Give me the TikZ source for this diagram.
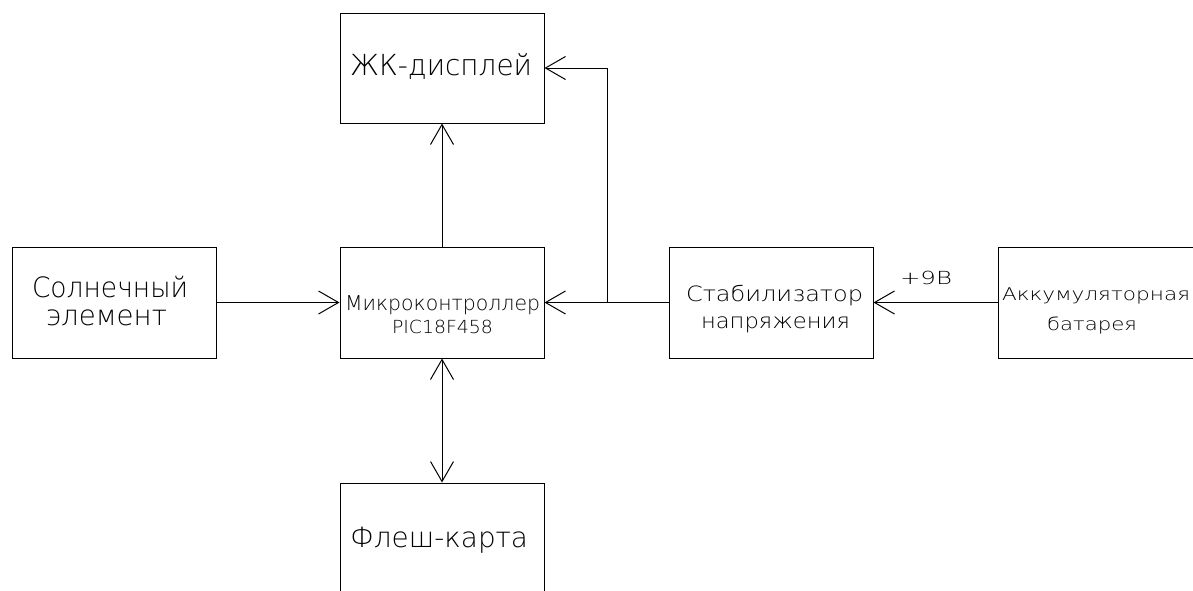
\documentclass[tikz,border=0pt]{standalone}
\usepackage{fontspec}
\usepackage{graphicx}
\setmainfont{DejaVu Sans ExtraLight}
\usetikzlibrary{arrows.meta}
% one text line at a given size, stretched horizontally to a given width
\newcommand\fitline[3]{{\fontsize{#2}{#2}\selectfont\resizebox{#1}{\height}{#3}}}
\tikzset{
  block/.style={draw, line width=1pt, rectangle, minimum width=204pt, minimum height=111pt, inner sep=0pt},
  txt/.style={anchor=base west, inner sep=0pt, outer sep=0pt},
  link/.style={line width=1pt, -{Straight Barb[length=20pt, width=23pt, line width=1pt]}},
  dlink/.style={line width=1pt, {Straight Barb[length=20pt, width=23pt, line width=1pt]}-{Straight Barb[length=20pt, width=23pt, line width=1pt]}},
  wire/.style={line width=1pt}
}
\begin{document}
\begin{tikzpicture}[x=1pt, y=-1pt]
\useasboundingbox (0,0) rectangle (1193,590);
\begin{scope}
\clip (0,0) rectangle (1193,590);
% blocks
\node[block, minimum height=110pt] (lcd) at (442,68) {};
\node[block] (mcu)   at (442,302.5) {};
\node[block] (solar) at (114,302.5) {};
\node[block] (stab)  at (771,302.5) {};
\node[block] (bat)   at (1100,302.5) {};
\node[block] (flash) at (442,538.5) {};
% labels
\node[txt] (lcdT)   at (350,75)  {\fitline{182pt}{29pt}{ЖК-дисплей}};
\node[txt] (solT1)  at (32,297)  {\fitline{156pt}{28pt}{Солнечный}};
\node[txt] (solT2)  at (46,325)  {\fitline{121pt}{28pt}{элемент}};
\node[txt] (mcuT1)  at (345,310) {\fitline{195pt}{20.5pt}{Микроконтроллер}};
\node[txt] (mcuT2)  at (392,333) {\fitline{101pt}{18pt}{PIC18F458}};
\node[txt] (stabT1) at (686,301) {\fitline{177pt}{21pt}{Стабилизатор}};
\node[txt] (stabT2) at (701,328) {\fitline{149pt}{21pt}{напряжения}};
\node[txt] (batT1)  at (1002,300) {\fitline{188pt}{17.5pt}{Аккумуляторная}};
\node[txt] (batT2)  at (1047,330) {\fitline{90pt}{17.5pt}{батарея}};
\node[txt] (volt)   at (900,284) {\fitline{52pt}{18pt}{+9В}};
\node[txt] (flashT) at (350,547) {\fitline{178pt}{28pt}{Флеш-карта}};
% connections
\coordinate (tap) at (607,302.5);
\draw[link] (solar.east) -- (mcu.west);
\draw[link] (stab.west) -- (mcu.east);
\draw[link] (tap) |- (lcd.east);
\draw[link] (mcu.north) -- (lcd.south);
\draw[dlink] (mcu.south) -- (flash.north);
\draw[link] (bat.west) -- (stab.east);
\end{scope}
\end{tikzpicture}
\end{document}
